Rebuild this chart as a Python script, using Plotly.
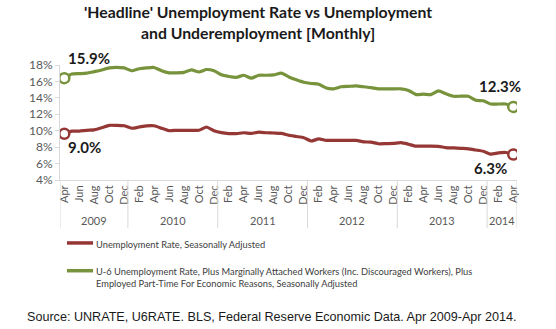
import plotly.graph_objects as go

# ---------------- data ----------------
month_abbr = ["Jan", "Feb", "Mar", "Apr", "May", "Jun", "Jul", "Aug", "Sep", "Oct", "Nov", "Dec"]
start_year = 2009
start_month = 4  # April 2009
n_months = 61    # Apr 2009 .. Apr 2014

unrate = [9.63, 9.95, 9.95, 10.05, 10.1, 10.35, 10.65, 10.65, 10.6, 10.3,
          10.45, 10.6, 10.6, 10.3, 10.0, 10.05, 10.05, 10.05, 10.05, 10.45,
          10.0, 9.76, 9.65, 9.65, 9.75, 9.68, 9.83, 9.75, 9.72, 9.68,
          9.45, 9.3, 9.15, 8.75, 9.0, 8.82, 8.82, 8.82, 8.82, 8.82,
          8.65, 8.6, 8.41, 8.43, 8.45, 8.54, 8.35, 8.12, 8.12, 8.12,
          8.1, 7.95, 7.9, 7.85, 7.8, 7.65, 7.5, 7.15, 7.3, 7.35,
          7.1]
u6 = [16.4, 16.9, 16.95, 17.0, 17.2, 17.4, 17.65, 17.7, 17.65, 17.3,
      17.55, 17.65, 17.7, 17.3, 17.05, 17.05, 17.1, 17.4, 17.15, 17.45,
      17.3, 16.8, 16.6, 16.5, 16.75, 16.4, 16.75, 16.75, 16.8, 17.0,
      16.55, 16.2, 15.9, 15.75, 15.65, 15.2, 15.1, 15.35, 15.4, 15.45,
      15.35, 15.25, 15.1, 15.1, 15.1, 15.1, 14.9, 14.4, 14.45, 14.4,
      14.85, 14.5, 14.2, 14.2, 14.2, 13.7, 13.65, 13.25, 13.25, 13.25,
      12.9]

series_names = [
    "Unemployment Rate, Seasonally Adjusted",
    "U-6 Unemployment Rate, Plus Marginally Attached Workers (Inc. Discouraged Workers), Plus<br>"
    "Employed Part-Time For Economic Reasons, Seasonally Adjusted",
]
unrate_end_labels = ["9.0%", "6.3%"]
u6_end_labels = ["15.9%", "12.3%"]
y_ticks = [4, 6, 8, 10, 12, 14, 16, 18]
title_text = "'Headline' Unemployment Rate vs Unemployment<br>and Underemployment [Monthly]"
source_text = "Source: UNRATE, U6RATE. BLS, Federal Reserve Economic Data. Apr 2009-Apr 2014."

# ---------------- derived categories ----------------
x = list(range(n_months))
month_idx = [(start_month - 1 + i) % 12 for i in x]
year_of = [start_year + (start_month - 1 + i) // 12 for i in x]
month_labels = [month_abbr[m] for m in month_idx]
tick_vals = x[::2]
tick_text = month_labels[::2]

RED = "#953735"
GREEN = "#77933C"
AXIS_GRAY = "#D9D9D9"
TXT_GRAY = "#595959"
FONT = "Lato"

W, H = 556, 329
L, R = 60, 517          # plot area pixel extents
T, B = 64.5, 180.5
XR = [-0.575, 60.5]


def px2x(px):
    return (px - L) / (R - L)


def py2y(py):
    return (B - py) / (B - T)


fig = go.Figure()

for ys, col, nm in [(unrate, RED, series_names[0]), (u6, GREEN, series_names[1])]:
    fig.add_trace(go.Scatter(x=x, y=ys, mode="lines", name=nm,
                             line=dict(color=col, width=3.2, shape="spline", smoothing=0.5),
                             hoverinfo="skip", showlegend=False))
    fig.add_trace(go.Scatter(x=[x[0], x[-1]], y=[ys[0], ys[-1]], mode="markers",
                             marker=dict(symbol="circle", size=10, color="white",
                                         line=dict(color=col, width=2.5)),
                             hoverinfo="skip", showlegend=False))

annotations = []
shapes = []

# title
annotations.append(dict(text="<b>" + title_text + "</b>", x=px2x(257.5), y=py2y(21),
                        xref="paper", yref="paper", showarrow=False,
                        xanchor="center", yanchor="middle",
                        font=dict(family=FONT, size=15.8, color="#1a1a1a")))

# end labels
lab_font = dict(family=FONT, size=15, color="#1a1a1a")
annotations += [
    dict(text="<b>%s</b>" % u6_end_labels[0], x=x[0], y=u6[0], xref="x", yref="y",
         showarrow=False, xanchor="left", yanchor="middle", xshift=2, yshift=20, font=lab_font),
    dict(text="<b>%s</b>" % u6_end_labels[1], x=x[-1], y=u6[-1], xref="x", yref="y",
         showarrow=False, xanchor="right", yanchor="middle", xshift=10, yshift=21, font=lab_font),
    dict(text="<b>%s</b>" % unrate_end_labels[0], x=x[0], y=unrate[0], xref="x", yref="y",
         showarrow=False, xanchor="left", yanchor="middle", xshift=2, yshift=-13, font=lab_font),
    dict(text="<b>%s</b>" % unrate_end_labels[1], x=x[-1], y=unrate[-1], xref="x", yref="y",
         showarrow=False, xanchor="right", yanchor="middle", xshift=-4, yshift=-13, font=lab_font),
]

# year groups + separators
years = sorted(set(year_of))
bounds = [XR[0]]
for i in x[1:]:
    if year_of[i] != year_of[i - 1]:
        bounds.append(i - 0.5)
bounds.append(XR[1])
sep_bottom = py2y(229)
for b in bounds:
    shapes.append(dict(type="line", xref="x", yref="paper", x0=b, x1=b, y0=0, y1=sep_bottom,
                       line=dict(color=AXIS_GRAY, width=1)))
for k, yr in enumerate(years):
    annotations.append(dict(text=str(yr), x=(bounds[k] + bounds[k + 1]) / 2, y=py2y(221),
                            xref="x", yref="paper", showarrow=False,
                            xanchor="center", yanchor="middle",
                            font=dict(family=FONT, size=11, color=TXT_GRAY)))

# manual legend
leg = [(RED, series_names[0], 244), (GREEN, series_names[1], 272)]
for col, nm, py in leg:
    shapes.append(dict(type="line", xref="paper", yref="paper", x0=px2x(67), x1=px2x(93),
                       y0=py2y(py), y1=py2y(py), line=dict(color=col, width=3.5)))
    annotations.append(dict(text=nm, x=px2x(94), y=py2y(py - 6.5), xref="paper", yref="paper",
                            showarrow=False, xanchor="left", yanchor="top", align="left",
                            font=dict(family=FONT, size=9.3, color="#404040")))

# source
annotations.append(dict(text=source_text, x=px2x(271.5), y=py2y(319), xref="paper", yref="paper",
                        showarrow=False, xanchor="center", yanchor="middle",
                        font=dict(family="Liberation Sans", size=12.6, color="#1a1a1a")))

fig.update_layout(
    width=W, height=H, autosize=False,
    margin=dict(l=L, r=W - R, t=T, b=H - B, pad=0),
    paper_bgcolor="white", plot_bgcolor="white",
    showlegend=False,
    annotations=annotations, shapes=shapes,
    xaxis=dict(range=XR, tickmode="array", tickvals=tick_vals, ticktext=tick_text,
               tickangle=-90, showgrid=False, zeroline=False, showline=True,
               linecolor=AXIS_GRAY, linewidth=1, ticks="",
               tickfont=dict(family=FONT, size=11, color=TXT_GRAY)),
    yaxis=dict(range=[4, 18], tickmode="array", tickvals=y_ticks,
               ticktext=["%d%%" % v for v in y_ticks],
               showgrid=False, zeroline=False, showline=True, linecolor=AXIS_GRAY,
               linewidth=1, ticks="outside", ticklen=4, tickcolor=AXIS_GRAY,
               tickfont=dict(family=FONT, size=12, color=TXT_GRAY)),
)

fig.write_html("out.html")
